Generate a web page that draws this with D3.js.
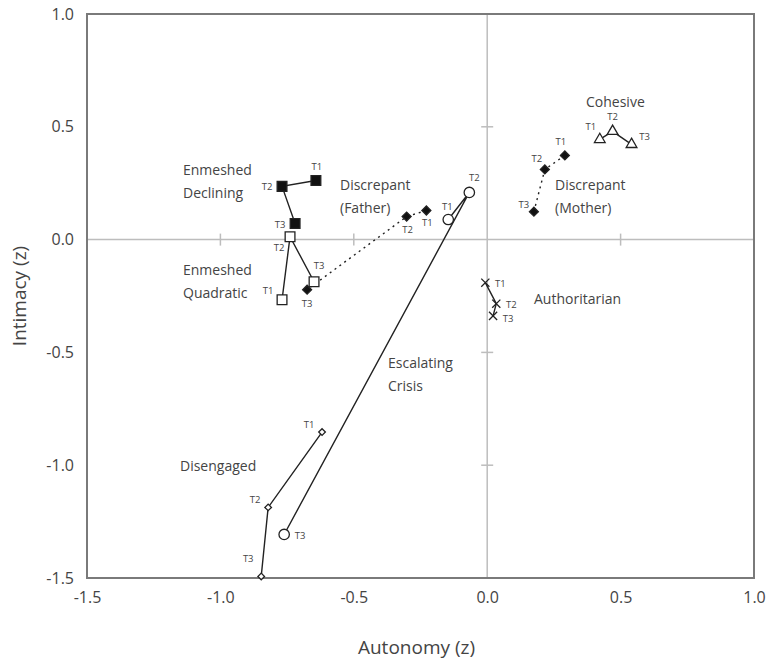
<!DOCTYPE html>
<html>
<head>
<meta charset="utf-8">
<script src="https://cdn.jsdelivr.net/npm/d3@7"></script>
<style>
body { margin: 0; background: #fff; }
svg { display: block; font-family: "Open Sans", sans-serif; }
</style>
</head>
<body>
<svg id="chart" width="766" height="662"></svg>
<script>
// tick values on both axes
var xTicks = [-1.5, -1.0, -0.5, 0.0, 0.5, 1.0];
var yTicks = [-1.5, -1.0, -0.5, 0.0, 0.5, 1.0];

// one array per group: [autonomy, intimacy] for T1, T2, T3
var enmeshedDeclining = [[-0.642, 0.262], [-0.769, 0.236], [-0.720, 0.071]];
var enmeshedQuadratic = [[-0.769, -0.267], [-0.739, 0.013], [-0.649, -0.187]];
var discrepantFather = [[-0.228, 0.129], [-0.302, 0.102], [-0.675, -0.222]];
var escalatingCrisis = [[-0.146, 0.089], [-0.067, 0.209], [-0.761, -1.307]];
var disengaged = [[-0.619, -0.853], [-0.821, -1.187], [-0.847, -1.493]];
var cohesive = [[0.422, 0.444], [0.470, 0.480], [0.541, 0.422]];
var discrepantMother = [[0.291, 0.373], [0.216, 0.311], [0.175, 0.124]];
var authoritarian = [[-0.007, -0.191], [0.034, -0.284], [0.022, -0.338]];

var timeLabels = ["T1", "T2", "T3"];

var svg = d3.select("#chart");
var pLeft = 87, pRight = 754, pTop = 14, pBottom = 578;

var x = d3.scaleLinear().domain([-1.5, 1.0]).range([pLeft, pRight]);
var y = d3.scaleLinear().domain([-1.5, 1.0]).range([pBottom, pTop]);

function fmt(d) { return d.toFixed(1); }

// zero lines
svg.append("line").attr("x1", x(0)).attr("x2", x(0)).attr("y1", pTop).attr("y2", pBottom)
  .attr("stroke", "#bdbdbd").attr("stroke-width", 1.5);
svg.append("line").attr("x1", pLeft).attr("x2", pRight).attr("y1", y(0)).attr("y2", y(0))
  .attr("stroke", "#bdbdbd").attr("stroke-width", 1.5);

// small ticks on the zero lines
svg.selectAll(".xt").data(xTicks.filter(function(d){ return d != 0 && d > -1.5 && d < 1; }))
  .join("line").attr("class", "xt")
  .attr("x1", function(d){ return x(d); }).attr("x2", function(d){ return x(d); })
  .attr("y1", y(0) - 6).attr("y2", y(0) + 6)
  .attr("stroke", "#bdbdbd").attr("stroke-width", 1.5);
svg.selectAll(".yt").data(yTicks.filter(function(d){ return d != 0 && d > -1.5 && d < 1; }))
  .join("line").attr("class", "yt")
  .attr("y1", function(d){ return y(d); }).attr("y2", function(d){ return y(d); })
  .attr("x1", x(0) - 6).attr("x2", x(0) + 6)
  .attr("stroke", "#bdbdbd").attr("stroke-width", 1.5);

// frame
svg.append("rect").attr("x", pLeft).attr("y", pTop).attr("width", pRight - pLeft).attr("height", pBottom - pTop)
  .attr("fill", "none").attr("stroke", "#7a7a7a").attr("stroke-width", 2);

// axes (labels only)
var xAxis = svg.append("g").attr("transform", "translate(0," + pBottom + ")")
  .call(d3.axisBottom(x).tickValues(xTicks).tickFormat(fmt).tickSize(0).tickPadding(14));
var yAxis = svg.append("g").attr("transform", "translate(" + pLeft + ",0)")
  .call(d3.axisLeft(y).tickValues(yTicks).tickFormat(fmt).tickSize(0).tickPadding(13));
[xAxis, yAxis].forEach(function(a){
  a.select(".domain").remove();
  a.selectAll("text").attr("fill", "#444").style("font-size", "16px").style("font-family", "Open Sans, sans-serif");
});

svg.append("text").attr("x", (pLeft + pRight) / 2 - 4).attr("y", 654).attr("text-anchor", "middle")
  .attr("fill", "#444").style("font-size", "19px").text("Autonomy (z)");
svg.append("text").attr("transform", "translate(26," + ((pTop + pBottom) / 2) + ") rotate(-90)")
  .attr("text-anchor", "middle").attr("fill", "#444").style("font-size", "19px").text("Intimacy (z)");

var line = d3.line().x(function(d){ return x(d[0]); }).y(function(d){ return y(d[1]); });

function drawPath(data, dashed) {
  svg.append("path").datum(data).attr("d", line).attr("fill", "none")
    .attr("stroke", "#222").attr("stroke-width", 1.4)
    .attr("stroke-dasharray", dashed ? "2,4" : null);
}

drawPath(enmeshedDeclining, false);
drawPath(enmeshedQuadratic, false);
drawPath(discrepantFather, true);
drawPath(escalatingCrisis, false);
drawPath(disengaged, false);
drawPath(cohesive, false);
drawPath(discrepantMother, true);
drawPath(authoritarian, false);

function drawSymbols(data, type, size, filled, rot) {
  var sym = d3.symbol().type(type).size(size);
  svg.append("g").selectAll("path").data(data).join("path")
    .attr("d", sym)
    .attr("transform", function(d){ return "translate(" + x(d[0]) + "," + y(d[1]) + ")" + (rot ? " rotate(" + rot + ")" : ""); })
    .attr("fill", filled == null ? "none" : (filled ? "#111" : "#fff"))
    .attr("stroke", "#222").attr("stroke-width", 1.3);
}

drawSymbols(enmeshedDeclining, d3.symbolSquare, 95, true);
drawSymbols(enmeshedQuadratic, d3.symbolSquare, 95, false);
drawSymbols(discrepantFather, d3.symbolSquare, 40, true, 45);
drawSymbols(discrepantMother, d3.symbolSquare, 40, true, 45);
drawSymbols(escalatingCrisis, d3.symbolCircle, 85, false);
drawSymbols(disengaged, d3.symbolSquare, 22, false, 45);
drawSymbols(cohesive, d3.symbolTriangle, 50, false);
drawSymbols(authoritarian, d3.symbolX, 45, null);

// T labels: offsets from each point
function drawT(data, offsets) {
  svg.append("g").selectAll("text").data(data).join("text")
    .attr("x", function(d, i){ return x(d[0]) + offsets[i][0]; })
    .attr("y", function(d, i){ return y(d[1]) + offsets[i][1]; })
    .attr("text-anchor", "middle")
    .attr("fill", "#444").style("font-size", "9.5px")
    .text(function(d, i){ return timeLabels[i]; });
}

drawT(enmeshedDeclining, [[1, -10], [-15, 4], [-15, 4]]);
drawT(enmeshedQuadratic, [[-14, -6], [-11, 14], [5, -13]]);
drawT(discrepantFather, [[1, 16], [1, 16], [0, 17]]);
drawT(escalatingCrisis, [[-1, -10], [5, -11], [16, 5]]);
drawT(disengaged, [[-13, -4], [-13, -4], [-13, -14]]);
drawT(cohesive, [[-9, -9], [0, -11], [13, -4]]);
drawT(discrepantMother, [[-4, -10], [-8, -7], [-10, -4]]);
drawT(authoritarian, [[15, 4], [15, 4], [15, 6]]);

// group names
var groupNames = [
  ["Enmeshed", "Declining"], ["Enmeshed", "Quadratic"], ["Discrepant", "(Father)"],
  ["Escalating", "Crisis"], ["Disengaged"], ["Cohesive"], ["Discrepant", "(Mother)"], ["Authoritarian"]
];
var namePos = [[183, 175], [183, 275], [340, 190], [388, 368], [180, 471], [586, 107], [555, 190], [534, 304]];

groupNames.forEach(function(lines, i){
  var t = svg.append("text").attr("x", namePos[i][0]).attr("y", namePos[i][1])
    .attr("fill", "#444").style("font-size", "14px");
  lines.forEach(function(s, j){
    t.append("tspan").attr("x", namePos[i][0]).attr("dy", j == 0 ? 0 : 23).text(s);
  });
});
</script>
</body>
</html>
